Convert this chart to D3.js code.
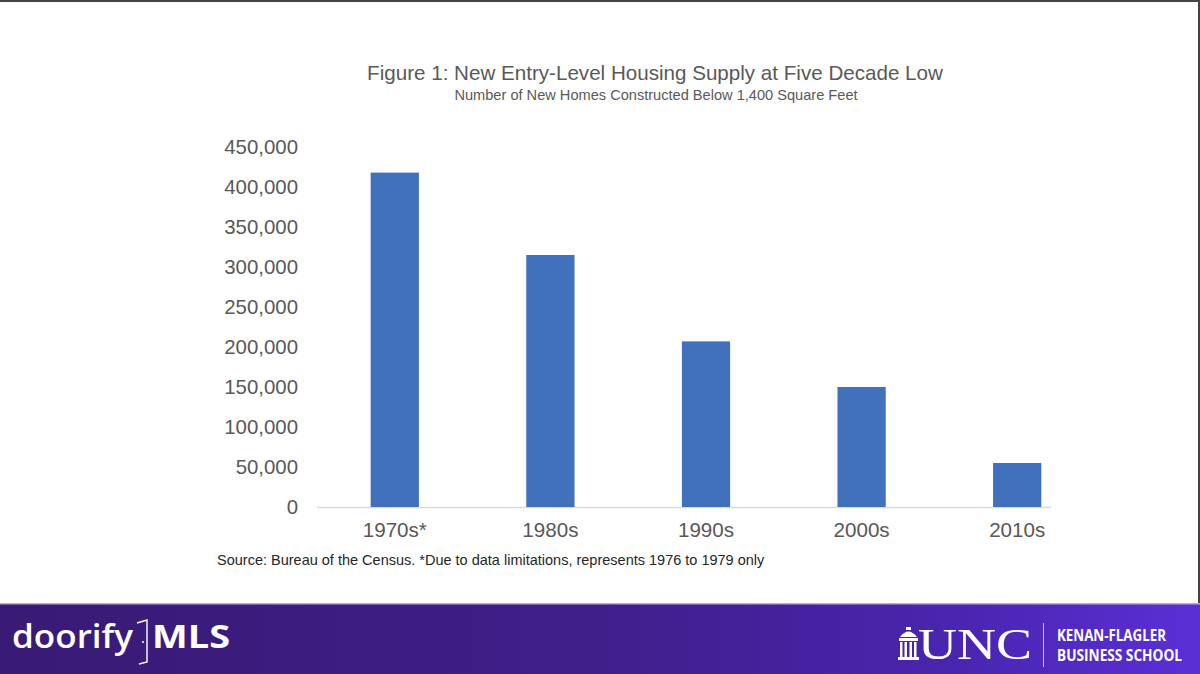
<!DOCTYPE html>
<html>
<head>
<meta charset="utf-8">
<script src="https://cdn.jsdelivr.net/npm/d3@7"></script>
<style>
  html, body { margin: 0; padding: 0; background: #fff; }
  svg { display: block; font-family: "Liberation Sans", Arial, sans-serif; }
</style>
</head>
<body>
<div id="container"></div>
<script>
let decades = ['1970s*', '1980s', '1990s', '2000s', '2010s'],
  homes = [418000, 315000, 207000, 150000, 55000],
  y_ticks = [0, 50000, 100000, 150000, 200000, 250000, 300000, 350000, 400000, 450000],
  title = 'Figure 1: New Entry-Level Housing Supply at Five Decade Low',
  subtitle = 'Number of New Homes Constructed Below 1,400 Square Feet',
  source = 'Source: Bureau of the Census. *Due to data limitations, represents 1976 to 1979 only'

let width = 1200,
  height = 674,
  plot = { left: 317, right: 1095, top: 147, bottom: 507 }

let svg = d3.select('#container')
  .append('svg')
  .attr('width', width)
  .attr('height', height)

let defs = svg.append('defs')
let grad = defs.append('linearGradient').attr('id', 'band')
  .attr('x1', '0').attr('x2', '1').attr('y1', '0').attr('y2', '0')
grad.append('stop').attr('offset', '0').attr('stop-color', '#391a74')
grad.append('stop').attr('offset', '0.5').attr('stop-color', '#3f1f8a')
grad.append('stop').attr('offset', '0.8').attr('stop-color', '#4a25b0')
grad.append('stop').attr('offset', '1').attr('stop-color', '#5a30d6')

// frame lines
svg.append('rect').attr('x', 0).attr('y', 0).attr('width', width).attr('height', 2).attr('fill', '#444')
svg.append('rect').attr('x', width - 2).attr('y', 0).attr('width', 2).attr('height', 604).attr('fill', '#444')

// titles
svg.append('text')
  .attr('x', 655).attr('y', 80)
  .attr('text-anchor', 'middle')
  .attr('font-size', 20.6)
  .attr('fill', '#595959')
  .text(title)
svg.append('text')
  .attr('x', 656).attr('y', 100)
  .attr('text-anchor', 'middle')
  .attr('font-size', 14.6)
  .attr('fill', '#595959')
  .text(subtitle)

let scale_x = d3.scaleBand()
  .domain(decades)
  .range([plot.left, plot.right])
  .paddingInner(0.69)
  .paddingOuter(0.345)

let scale_y = d3.scaleLinear()
  .domain([0, 450000])
  .range([plot.bottom, plot.top])

let y_axis = d3.axisLeft(scale_y)
  .tickValues(y_ticks)
  .tickFormat(d3.format(','))
  .tickSize(0)
  .tickPadding(0)

let gy = svg.append('g')
  .attr('transform', 'translate(298,0)')
  .call(y_axis)
gy.select('.domain').remove()
gy.selectAll('text')
  .attr('font-size', 20.4)
  .attr('fill', '#595959')
  .attr('font-family', '"Liberation Sans", Arial, sans-serif')

// baseline
svg.append('line')
  .attr('x1', plot.left)
  .attr('x2', scale_x(decades[decades.length - 1]) + scale_x.bandwidth() + 10)
  .attr('y1', scale_y(0) + 0.5)
  .attr('y2', scale_y(0) + 0.5)
  .attr('stroke', '#d9d9d9')
  .attr('stroke-width', 1.5)

svg.selectAll('rect.bar')
  .data(homes).enter().append('rect')
  .attr('class', 'bar')
  .attr('x', (d, i) => scale_x(decades[i]))
  .attr('y', d => scale_y(d))
  .attr('width', scale_x.bandwidth())
  .attr('height', d => scale_y(0) - scale_y(d))
  .attr('fill', '#4170bd')

let x_axis = d3.axisBottom(scale_x).tickSize(0).tickPadding(0)
let gx = svg.append('g')
  .attr('transform', 'translate(0,' + (plot.bottom + 30) + ')')
  .call(x_axis)
gx.select('.domain').remove()
gx.selectAll('text')
  .attr('dy', 0)
  .attr('font-size', 20.6)
  .attr('fill', '#595959')
  .attr('font-family', '"Liberation Sans", Arial, sans-serif')

svg.append('text')
  .attr('x', 217).attr('y', 565)
  .attr('font-size', 14.5)
  .attr('fill', '#262626')
  .text(source)

// bottom banner
svg.append('rect')
  .attr('x', 0).attr('y', 604)
  .attr('width', width).attr('height', height - 604)
  .attr('fill', 'url(#band)')
svg.append('rect')
  .attr('x', 0).attr('y', 603)
  .attr('width', width).attr('height', 1.5)
  .attr('fill', '#b9a9e0')

// doorify MLS
svg.append('text')
  .attr('x', 12).attr('y', 648)
  .attr('font-family', '"Open Sans", "DejaVu Sans", sans-serif')
  .attr('font-weight', 600)
  .attr('font-size', 33)
  .attr('textLength', 121)
  .attr('lengthAdjust', 'spacingAndGlyphs')
  .attr('fill', '#fff')
  .text('doorify')
svg.append('path')
  .attr('d', 'M137,623 L147,620 L147,662 L139,664')
  .attr('fill', 'none')
  .attr('stroke', '#fff')
  .attr('stroke-width', 1.4)
svg.append('circle').attr('cx', 143).attr('cy', 642).attr('r', 1).attr('fill', '#fff')
svg.append('text')
  .attr('x', 152).attr('y', 648)
  .attr('font-family', '"Open Sans", "DejaVu Sans", sans-serif')
  .attr('font-weight', 700)
  .attr('font-size', 33)
  .attr('textLength', 78)
  .attr('lengthAdjust', 'spacingAndGlyphs')
  .attr('fill', '#fff')
  .text('MLS')

// UNC logo
let dome = svg.append('g').attr('fill', '#fff')
dome.append('rect').attr('x', 906).attr('y', 627).attr('width', 5).attr('height', 3)
dome.append('path').attr('d', 'M900,637 Q908.5,626 917,637 Z')
dome.append('rect').attr('x', 899).attr('y', 638).attr('width', 19).attr('height', 3)
dome.append('rect').attr('x', 900).attr('y', 642).attr('width', 2.5).attr('height', 15)
dome.append('rect').attr('x', 904.5).attr('y', 642).attr('width', 2.5).attr('height', 15)
dome.append('rect').attr('x', 909.5).attr('y', 642).attr('width', 2.5).attr('height', 15)
dome.append('rect').attr('x', 914).attr('y', 642).attr('width', 2.5).attr('height', 15)
dome.append('rect').attr('x', 898).attr('y', 657).attr('width', 21).attr('height', 3)
svg.append('text')
  .attr('x', 918).attr('y', 659)
  .attr('font-family', '"Liberation Serif", "DejaVu Serif", serif')
  .attr('font-size', 45)
  .attr('textLength', 114)
  .attr('lengthAdjust', 'spacingAndGlyphs')
  .attr('fill', '#fff')
  .text('UNC')
svg.append('line')
  .attr('x1', 1043.5).attr('x2', 1043.5)
  .attr('y1', 623).attr('y2', 667)
  .attr('stroke', '#c9bdf0')
  .attr('stroke-width', 1)
svg.append('text')
  .attr('x', 1057).attr('y', 641)
  .attr('font-family', '"Open Sans", "DejaVu Sans", sans-serif')
  .attr('font-weight', 700)
  .attr('font-size', 16)
  .attr('textLength', 109)
  .attr('lengthAdjust', 'spacingAndGlyphs')
  .attr('fill', '#fff')
  .text('KENAN-FLAGLER')
svg.append('text')
  .attr('x', 1057).attr('y', 661)
  .attr('font-family', '"Open Sans", "DejaVu Sans", sans-serif')
  .attr('font-weight', 700)
  .attr('font-size', 16)
  .attr('textLength', 125)
  .attr('lengthAdjust', 'spacingAndGlyphs')
  .attr('fill', '#fff')
  .text('BUSINESS SCHOOL')
</script>
</body>
</html>
